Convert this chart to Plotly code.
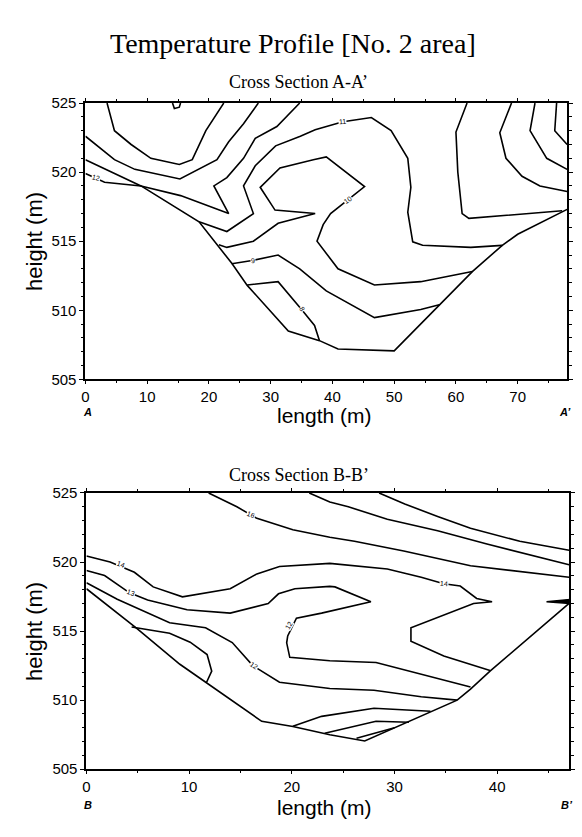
import plotly.graph_objects as go

# ---------------- Cross Section A-A' (length m, height m) ----------------
a_ground_len = [0, 9.0, 18.4, 21.3, 23.7, 26.2, 32.85, 37.9, 40.9, 50.0, 57.3, 62.65, 67.5, 70.0, 78]
a_ground_hgt = [520.9, 519.0, 516.4, 514.8, 513.4, 511.8, 508.5, 507.8, 507.2, 507.06, 510.4, 512.8, 514.7, 515.5, 517.3]

a_u1_len = [3.5, 4.7, 7.4, 10.6, 15.2, 17.3, 19.5, 22.4]
a_u1_hgt = [525, 523.0, 522.0, 521.0, 520.55, 520.9, 523.0, 525]

a_u2_len = [0, 4.7, 8.0, 15.3, 21.3, 23.2, 25.6, 28.0]
a_u2_hgt = [522.6, 520.9, 520.2, 519.5, 520.9, 522.2, 523.5, 525]

a_bump_len = [14.1, 14.4, 15.2, 15.4]
a_bump_hgt = [525, 524.6, 524.7, 525]

a_c12_len = [0, 3.1, 9.0, 15.4, 23.2, 20.8, 22.9, 25.6, 27.5, 31.0, 34.7]
a_c12_hgt = [519.9, 519.26, 519.0, 518.3, 517.0, 519.0, 519.6, 521.0, 522.45, 523.3, 525]

a_c11_len = [18.4, 22.9, 27.2, 25.6, 27.5, 30.8, 34.8, 37.2, 41.7, 46.3, 49.5, 52.2, 52.7, 52.2, 53.0, 54.6, 62.4, 67.5]
a_c11_hgt = [516.4, 515.7, 517.0, 519.0, 520.46, 521.9, 522.6, 523.06, 523.65, 523.95, 523.0, 521.0, 518.9, 517.1, 514.95, 514.7, 514.55, 514.7]

a_c10_len = [21.6, 22.9, 27.2, 31.2, 37.2, 30.7, 28.3, 31.5, 36.9, 39.0, 45.2, 42.6, 39.7, 38.5, 37.5, 40.9, 46.8, 54.3, 62.65]
a_c10_hgt = [514.75, 514.55, 515.0, 516.3, 517.0, 517.25, 518.9, 520.3, 520.9, 521.1, 518.95, 518.0, 517.0, 516.2, 515.0, 513.0, 511.83, 512.07, 512.8]

a_c9_len = [23.7, 27.0, 31.2, 34.7, 39.0, 46.8, 54.3, 57.3]
a_c9_hgt = [513.37, 513.6, 514.0, 513.0, 511.4, 509.47, 510.06, 510.4]

a_c8_len = [26.2, 31.2, 35.0, 37.1, 37.9]
a_c8_hgt = [511.83, 512.07, 510.06, 508.9, 507.8]

a_r1_len = [61.8, 60.0, 60.3, 61.0, 62.1, 77.2]
a_r1_hgt = [525, 522.9, 520.0, 517.0, 516.65, 517.2]

a_r2_len = [69.0, 67.1, 68.1, 70.7, 73.6, 78]
a_r2_hgt = [525, 522.85, 521.0, 519.7, 519.0, 518.6]

a_r3_len = [72.8, 72.0, 74.7, 78]
a_r3_hgt = [525, 523.0, 521.0, 520.2]

a_r4_len = [76.3, 76.0, 78]
a_r4_hgt = [525, 523.0, 522.0]

a_lab_txt = ["12", "11", "10", "9", "8"]
a_lab_len = [1.7, 41.7, 42.6, 27.2, 35.0]
a_lab_hgt = [519.6, 523.65, 518.0, 513.6, 510.1]
a_lab_ang = [15, -5, -35, -5, 60]

# ---------------- Cross Section B-B' ----------------
b_ground_len = [0, 4.9, 9.1, 17.07, 20.1, 23.7, 27.1, 36.1, 37.4, 39.3, 47]
b_ground_hgt = [518.07, 515.2, 512.6, 508.47, 508.1, 507.5, 507.05, 510.0, 510.8, 512.1, 517.0]

b_top3_len = [28.5, 31.0, 34.2, 37.4, 42.2, 47]
b_top3_hgt = [525, 524.2, 523.3, 522.45, 521.5, 520.85]

b_top2_len = [21.7, 23.7, 25.5, 29.3, 34.2, 39.0, 47]
b_top2_hgt = [525, 524.34, 524.0, 523.1, 522.26, 521.3, 519.8]

b_c16_len = [11.9, 14.65, 16.6, 20.1, 23.7, 26.1, 30.9, 37.4, 47]
b_c16_hgt = [525, 524.0, 523.16, 522.33, 521.8, 521.5, 520.8, 519.73, 518.9]

b_c14_len = [0, 2.3, 4.67, 6.5, 9.35, 14.0, 16.6, 18.8, 23.7, 29.3, 32.6, 34.8, 36.4, 37.4, 38.0, 39.5,
             37.7, 31.6, 31.6, 34.8, 39.3]
b_c14_hgt = [520.44, 520.0, 519.26, 518.2, 517.48, 518.07, 519.14, 519.68, 519.9, 519.5, 518.9, 518.43, 518.26, 517.7, 517.36, 517.13,
             517.0, 515.24, 514.27, 513.2, 512.14]

b_c13_len = [0, 1.77, 4.2, 5.96, 9.8, 14.0, 17.7, 18.7, 20.3, 23.7, 24.2, 27.7,
             22.9, 20.45, 19.6, 19.5, 19.8, 23.7, 28.2, 32.6, 37.4]
b_c13_hgt = [519.38, 519.02, 517.77, 517.25, 516.54, 516.3, 517.0, 517.7, 518.07, 518.24, 518.2, 517.13,
             516.3, 515.94, 514.65, 514.15, 513.1, 512.85, 512.73, 511.9, 510.96]

b_c12_len = [0, 3.0, 8.1, 11.6, 14.2, 16.2, 18.8, 21.0, 23.7, 28.0, 32.6, 36.1]
b_c12_hgt = [518.5, 517.3, 515.6, 515.24, 514.17, 512.5, 511.3, 511.1, 510.84, 510.72, 510.25, 510.0]

b_loop_len = [4.4, 8.1, 10.1, 11.75, 12.2, 11.7]
b_loop_hgt = [515.3, 514.85, 514.2, 513.3, 512.1, 511.3]

b_f1_len = [20.1, 22.9, 28.0, 33.5]
b_f1_hgt = [508.12, 508.83, 509.42, 509.2]

b_f2_len = [23.2, 28.2, 31.4]
b_f2_hgt = [507.6, 508.47, 508.4]

b_f3_len = [26.3, 28.5, 30.0]
b_f3_hgt = [507.25, 507.7, 508.0]

b_sliver_len = [44.8, 46.0, 47.0, 47.0, 46.0, 44.8]
b_sliver_hgt = [517.13, 517.22, 517.28, 517.0, 517.05, 517.13]

b_lab_txt = ["16", "14", "13", "14", "12", "12"]
b_lab_len = [16.0, 3.4, 4.3, 34.8, 16.3, 19.7]
b_lab_hgt = [523.45, 519.85, 517.8, 518.43, 512.5, 515.4]
b_lab_ang = [20, 20, 20, 5, 35, -60]

x_ticks_a = [0, 10, 20, 30, 40, 50, 60, 70]
x_ticks_b = [0, 10, 20, 30, 40]
y_ticks = [505, 510, 515, 520, 525]

fig = go.Figure()


def add_line(xs, ys, xa, ya, fill=False):
    fig.add_trace(go.Scatter(
        x=xs, y=ys, mode="lines", xaxis=xa, yaxis=ya,
        line=dict(color="black", width=1.6),
        fill="toself" if fill else None, fillcolor="black",
        hoverinfo="skip", showlegend=False))


for xs, ys in [(a_ground_len, a_ground_hgt), (a_u1_len, a_u1_hgt), (a_u2_len, a_u2_hgt),
               (a_bump_len, a_bump_hgt), (a_c12_len, a_c12_hgt), (a_c11_len, a_c11_hgt),
               (a_c10_len, a_c10_hgt), (a_c9_len, a_c9_hgt), (a_c8_len, a_c8_hgt),
               (a_r1_len, a_r1_hgt), (a_r2_len, a_r2_hgt), (a_r3_len, a_r3_hgt), (a_r4_len, a_r4_hgt)]:
    add_line(xs, ys, "x", "y")

for xs, ys in [(b_ground_len, b_ground_hgt), (b_top3_len, b_top3_hgt), (b_top2_len, b_top2_hgt),
               (b_c16_len, b_c16_hgt), (b_c14_len, b_c14_hgt), (b_c13_len, b_c13_hgt),
               (b_c12_len, b_c12_hgt), (b_loop_len, b_loop_hgt), (b_f1_len, b_f1_hgt),
               (b_f2_len, b_f2_hgt), (b_f3_len, b_f3_hgt)]:
    add_line(xs, ys, "x2", "y2")
add_line(b_sliver_len, b_sliver_hgt, "x2", "y2", fill=True)

SANS = "Liberation Sans, Arial, sans-serif"
SERIF = "Liberation Serif, Times New Roman, serif"
tickfont = dict(family=SANS, size=15, color="black")


def xaxis_style(domain, rng, ticks, anchor):
    return dict(domain=domain, range=rng, anchor=anchor, tickvals=ticks,
                ticks="outside", ticklen=3, tickwidth=1.2, tickcolor="black",
                showline=True, linewidth=2, linecolor="black", mirror="ticks",
                showgrid=False, zeroline=False, tickfont=tickfont,
                minor=dict(dtick=5, ticklen=2, tickwidth=1, tickcolor="black", ticks="outside", showgrid=False))


def yaxis_style(domain, anchor):
    return dict(domain=domain, range=[505, 525], anchor=anchor, tickvals=y_ticks,
                ticks="outside", ticklen=4, tickwidth=1.2, tickcolor="black",
                showline=True, linewidth=2, linecolor="black", mirror="ticks",
                showgrid=False, zeroline=False, tickfont=tickfont,
                minor=dict(dtick=1, ticklen=2.5, tickwidth=1, tickcolor="black", ticks="outside", showgrid=False))


W, H = 582, 837
fig.update_layout(
    width=W, height=H, autosize=False,
    margin=dict(l=0, r=0, t=0, b=0),
    paper_bgcolor="white", plot_bgcolor="white",
    xaxis=xaxis_style([82 / W, 567 / W], [0, 78], x_ticks_a, "y"),
    yaxis=yaxis_style([1 - 378 / H, 1 - 96 / H], "x"),
    xaxis2=xaxis_style([83 / W, 569 / W], [0, 47], x_ticks_b, "y2"),
    yaxis2=yaxis_style([1 - 776 / H, 1 - 494 / H], "x2"),
)

ann = []


def txt(text, px, py, size, family, **kw):
    ann.append(dict(text=text, x=px / W, y=1 - py / H, xref="paper", yref="paper",
                    showarrow=False, font=dict(family=family, size=size, color="black"),
                    xanchor=kw.pop("xanchor", "center"), yanchor=kw.pop("yanchor", "middle"), **kw))


txt("Temperature Profile [No. 2 area]", 291, 35, 28, SERIF)
txt("Cross Section A-A’", 297, 75, 18, SERIF)
txt("Cross Section B-B’", 297, 476, 18, SERIF)
txt("height (m)", 30, 237, 22, SANS, textangle=-90)
txt("height (m)", 30, 635, 22, SANS, textangle=-90)
txt("length (m)", 323, 415, 21, SANS)
txt("length (m)", 323, 815, 21, SANS)
txt("<b><i>A</i></b>", 84, 411, 11, SANS)
txt("<b><i>A’</i></b>", 565, 411, 11, SANS)
txt("<b><i>B</i></b>", 85, 812, 11, SANS)
txt("<b><i>B’</i></b>", 567, 813, 11, SANS)

for t, lx, ly, ang in zip(a_lab_txt, a_lab_len, a_lab_hgt, a_lab_ang):
    ann.append(dict(text=t, x=lx, y=ly, xref="x", yref="y", showarrow=False, textangle=ang,
                    font=dict(family=SANS, size=7, color="black"), bgcolor="white", borderpad=0))
for t, lx, ly, ang in zip(b_lab_txt, b_lab_len, b_lab_hgt, b_lab_ang):
    ann.append(dict(text=t, x=lx, y=ly, xref="x2", yref="y2", showarrow=False, textangle=ang,
                    font=dict(family=SANS, size=7, color="black"), bgcolor="white", borderpad=0))

fig.update_layout(annotations=ann)
fig.write_html("out.html")
